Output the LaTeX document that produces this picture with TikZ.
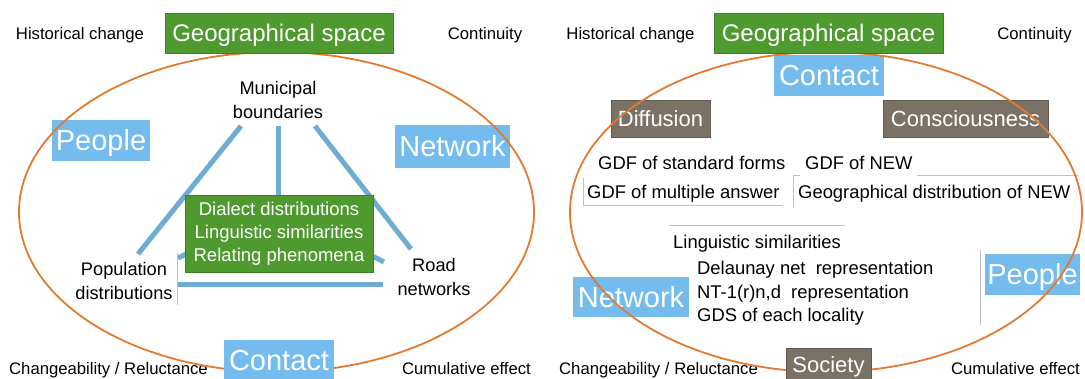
\documentclass[tikz,border=0pt]{standalone}
\usepackage{fontspec}
\setmainfont{Liberation Sans}
\definecolor{cgreen}{RGB}{78,154,47}
\definecolor{cgreenb}{RGB}{62,128,36}
\definecolor{cblue}{RGB}{116,188,238}
\definecolor{cline}{RGB}{110,172,212}
\definecolor{corange}{RGB}{227,122,50}
\definecolor{cbrown}{RGB}{122,113,103}
\definecolor{cgray}{RGB}{192,192,192}
\begin{document}
\begin{tikzpicture}[x=1pt,y=-1pt,
  corner/.style={font=\fontsize{16.7}{20}\selectfont, inner sep=0, anchor=base},
  midlbl/.style={font=\fontsize{18.2}{23.5}\selectfont, inner sep=0, align=center},
  rtxt/.style={font=\fontsize{18.4}{22}\selectfont, inner sep=0, anchor=base west},
  bluebox/.style={fill=cblue, text=white, font=\fontsize{29}{30}\selectfont, inner sep=0, text height=20.9pt, text depth=0pt},
  brownbox/.style={fill=cbrown, draw=cbrown!80!black, line width=0.6pt, text=white, font=\fontsize{22}{24}\selectfont, inner sep=0, text height=15.8pt, text depth=0pt},
  geobox/.style={fill=cgreen, draw=cgreenb, line width=0.8pt, text=white, font=\fontsize{24}{26}\selectfont, inner sep=0, text height=17.3pt, text depth=0pt},
  greenbox/.style={fill=cgreen, draw=cgreenb, line width=0.8pt, text=white, font=\fontsize{18.5}{23}\selectfont, inner sep=0, align=center},
  bline/.style={draw=cline, line width=5pt},
  gline/.style={draw=cgray, line width=0.9pt},
  oline/.style={draw=corange, line width=1.8pt}]
\useasboundingbox (0,0) rectangle (1085,378);

% ================= LEFT PANEL =================
\node[corner] (hcL) at (80,39) {Historical change};
\node[corner] (coL) at (485,39) {Continuity};
\node[corner] (chL) at (108.5,374.5) {Changeability / Reluctance};
\node[corner] (cuL) at (466.5,374.5) {Cumulative effect};

\node[midlbl] (mun) at (278,100) {Municipal\\boundaries};
\node[midlbl] (pop) at (124,281) {Population\\distributions};
\node[midlbl] (road) at (434,277) {Road\\networks};

% connector end points
\coordinate (mA) at (241,126);
\coordinate (mB) at (278,126);
\coordinate (mC) at (315,126);
\coordinate (pA) at (138,254);
\coordinate (rA) at (411,249);
\coordinate (hub) at (278,207);
\coordinate (pB) at (178,258);
\coordinate (rB) at (384,262);
\coordinate (pC) at (178,284);
\coordinate (rC) at (383,284);

\draw[bline] (mA) -- (pA);
\draw[bline] (mB) -- (hub);
\draw[bline] (mC) -- (rA);
\draw[bline] (pB) -- (hub) -- (rB);
\draw[bline] (pC) -- (rC);
\draw[gline] (177,253) -- (177,305);

\node[greenbox, minimum width=188, minimum height=77] (dia) at (279,233.5)
  {Dialect distributions\\Linguistic similarities\\Relating phenomena};

\node[bluebox, minimum width=98, minimum height=41] (peopleL) at (101,140.5) {People};
\node[bluebox, minimum width=115, minimum height=43] (networkL) at (452.5,146.5) {Network};

\draw[oline] (276.5,212) ellipse [x radius=257.5, y radius=160];

\node[bluebox, minimum width=110, minimum height=40] (contactL) at (279,360) {Contact};
\node[geobox, minimum width=228, minimum height=40] (geoL) at (279,33) {Geographical space};

% ================= RIGHT PANEL =================
\node[corner] (hcR) at (630.5,39) {Historical change};
\node[corner] (coR) at (1034.5,39) {Continuity};
\node[corner] (chR) at (658.5,374.5) {Changeability / Reluctance};
\node[corner] (cuR) at (1015.5,374.5) {Cumulative effect};

\node[rtxt] (gsf) at (598,169.6) {GDF of standard forms};
\node[rtxt] (gnew) at (805,169.6) {GDF of NEW};
\node[rtxt] (gma) at (587,198.6) {GDF of multiple answer};
\node[rtxt] (gdn) at (798,198.6) {Geographical distribution of NEW};
\node[rtxt] (ls) at (673,248.6) {Linguistic similarities};
\node[rtxt] (dl) at (697,274.6) {Delaunay net\ \ representation};
\node[rtxt] (nt) at (697,298.6) {NT-1(r)n,d\ \ representation};
\node[rtxt] (gds) at (697,321.6) {GDS of each locality};

\draw[gline] (583,178) -- (583,205) -- (783,205);
\draw[gline] (800,175) -- (793,175) -- (793,207);
\draw[gline] (917,175) -- (1078,175);
\draw[gline] (669,225) -- (845,225);
\draw[gline] (980,250) -- (980,325);

\node[bluebox, minimum width=110, minimum height=41] (contactR) at (829,75.5) {Contact};
\node[brownbox, minimum width=99, minimum height=37] (diff) at (660.5,118.5) {Diffusion};
\node[brownbox, minimum width=165, minimum height=37] (cons) at (965.5,118.5) {Consciousness};
\node[bluebox, minimum width=116, minimum height=40] (networkR) at (631,297) {Network};
\node[bluebox, minimum width=95, minimum height=41] (peopleR) at (1032.5,274.5) {People};

\draw[oline] (826,212) ellipse [x radius=256, y radius=160];

\node[brownbox, text depth=4pt, minimum width=85, minimum height=38] (soc) at (828.5,367) {Society};
\node[geobox, minimum width=229, minimum height=40] (geoR) at (828.5,33) {Geographical space};
\end{tikzpicture}
\end{document}
